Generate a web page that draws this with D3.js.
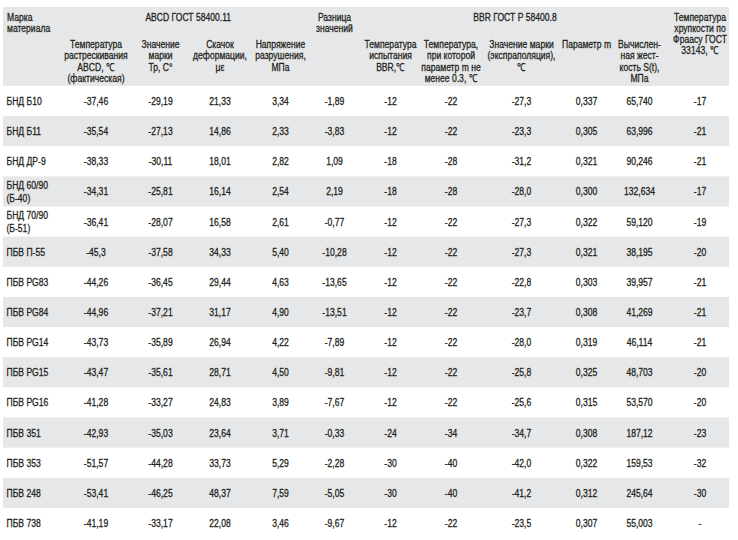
<!DOCTYPE html>
<html>
<head>
<meta charset="utf-8">
<script src="https://cdn.jsdelivr.net/npm/d3@7"></script>
<style>
  html, body { margin: 0; padding: 0; background: #ffffff; }
  svg text { font-family: "Liberation Sans", Arial, sans-serif; font-size: 11px; fill: #231f20; stroke: #231f20; stroke-width: 0.3px; }
</style>
</head>
<body>
<svg id="chart" width="738" height="540"></svg>
<script>
// ---- data ----
const materials = ["БНД Б10", "БНД Б11", "БНД ДР-9", "БНД 60/90\n(Б-40)", "БНД 70/90\n(Б-51)", "ПБВ П-55",
  "ПБВ PG83", "ПБВ PG84", "ПБВ PG14", "ПБВ PG15", "ПБВ PG16", "ПБВ 351", "ПБВ 353", "ПБВ 248", "ПБВ 738"];
const crackTempABCD = ["-37,46", "-35,54", "-38,33", "-34,31", "-36,41", "-45,3", "-44,26", "-44,96", "-43,73", "-43,47", "-41,28", "-42,93", "-51,57", "-53,41", "-41,19"];
const gradeTp = ["-29,19", "-27,13", "-30,11", "-25,81", "-28,07", "-37,58", "-36,45", "-37,21", "-35,89", "-35,61", "-33,27", "-35,03", "-44,28", "-46,25", "-33,17"];
const strainJump = ["21,33", "14,86", "18,01", "16,14", "16,58", "34,33", "29,44", "31,17", "26,94", "28,71", "24,83", "23,64", "33,73", "48,37", "22,08"];
const failStress = ["3,34", "2,33", "2,82", "2,54", "2,61", "5,40", "4,63", "4,90", "4,22", "4,50", "3,89", "3,71", "5,29", "7,59", "3,46"];
const diffValues = ["-1,89", "-3,83", "1,09", "2,19", "-0,77", "-10,28", "-13,65", "-13,51", "-7,89", "-9,81", "-7,67", "-0,33", "-2,28", "-5,05", "-9,67"];
const bbrTestTemp = ["-12", "-12", "-18", "-18", "-12", "-12", "-12", "-12", "-12", "-12", "-12", "-24", "-30", "-30", "-12"];
const tempM03 = ["-22", "-22", "-28", "-28", "-22", "-22", "-22", "-22", "-22", "-22", "-22", "-34", "-40", "-40", "-22"];
const gradeExtrap = ["-27,3", "-23,3", "-31,2", "-28,0", "-27,3", "-27,3", "-22,8", "-23,7", "-28,0", "-25,8", "-25,6", "-34,7", "-42,0", "-41,2", "-23,5"];
const paramM = ["0,337", "0,305", "0,321", "0,300", "0,322", "0,321", "0,303", "0,308", "0,319", "0,325", "0,315", "0,308", "0,322", "0,312", "0,307"];
const stiffness = ["65,740", "63,996", "90,246", "132,634", "59,120", "38,195", "39,957", "41,269", "46,114", "48,703", "53,570", "187,12", "159,53", "245,64", "55,003"];
const fraassTemp = ["-17", "-21", "-21", "-17", "-19", "-20", "-21", "-21", "-21", "-20", "-20", "-23", "-32", "-30", "-"];

// header texts
const labelHeader = ["Марка", "материала"];
const groupHeaders = [
  { text: ["ABCD ГОСТ 58400.11"], from: "c1", to: "c4" },
  { text: ["Разница", "значений"], from: "c5", to: "c5" },
  { text: ["BBR ГОСТ Р 58400.8"], from: "c6", to: "c10" },
  { text: ["Температура", "хрупкости по", "Фраасу ГОСТ", "33143, ℃"], from: "c11", to: "c11" }
];
const subHeaders = {
  c1: ["Температура", "растрескивания", "ABCD, ℃", "(фактическая)"],
  c2: ["Значение", "марки", "Тр, С°"],
  c3: ["Скачок", "деформации,", "με"],
  c4: ["Напряжение", "разрушения,", "МПа"],
  c6: ["Температура", "испытания", "BBR,℃"],
  c7: ["Температура,", "при которой", "параметр m не", "менее 0.3, ℃"],
  c8: ["Значение марки", "(экспраполяция),", "℃"],
  c9: ["Параметр m"],
  c10: ["Вычислен-", "ная жест-", "кость S(t),", "МПа"]
};
const columns = [
  { key: "c1", values: crackTempABCD },
  { key: "c2", values: gradeTp },
  { key: "c3", values: strainJump },
  { key: "c4", values: failStress },
  { key: "c5", values: diffValues },
  { key: "c6", values: bbrTestTemp },
  { key: "c7", values: tempM03 },
  { key: "c8", values: gradeExtrap },
  { key: "c9", values: paramM },
  { key: "c10", values: stiffness },
  { key: "c11", values: fraassTemp }
];

// ---- layout ----
const svg = d3.select("#chart");
const left = 3, right = 729, headTop = 7, headBottom = 86, bodyBottom = 538;
const labelX = 6.5;
const lineH = 11.3;
const sx = 0.78; // horizontal condensing of the text (narrow face look)

const x = d3.scaleOrdinal()
  .domain(columns.map(c => c.key))
  .range([96, 160.5, 220, 280.5, 334.5, 390.5, 451, 521.5, 586.5, 639.5, 700]);

const y = d3.scaleBand()
  .domain(d3.range(materials.length))
  .range([headBottom, bodyBottom]);

// header background
svg.append("rect")
  .attr("x", left).attr("y", headTop)
  .attr("width", right - left).attr("height", headBottom - headTop)
  .attr("fill", "#e6e7e8");

// row stripes
svg.append("g").selectAll("rect")
  .data(d3.range(materials.length).filter(i => i % 2 === 1))
  .join("rect")
  .attr("x", left).attr("y", i => y(i))
  .attr("width", right - left).attr("height", y.bandwidth())
  .attr("fill", "#e6e7e8");

// condensed multi-line text helper
function multiLine(g, lines, xPos, baseline, anchor, step, dy) {
  const t = g.append("text")
    .attr("text-anchor", anchor)
    .attr("transform", `translate(${xPos},${baseline}) scale(${sx},1)`);
  lines.forEach((ln, i) => {
    const ts = t.append("tspan").attr("x", 0).attr("y", i * step).text(ln);
    if (dy) ts.attr("dy", dy);
  });
  return t;
}

const hg = svg.append("g");
multiLine(hg, labelHeader, labelX + 0.5, 20.5, "start", lineH);
groupHeaders.forEach(gh => {
  const cx = (x(gh.from) + x(gh.to)) / 2;
  multiLine(hg, gh.text, cx, 20.5, "middle", lineH);
});
Object.entries(subHeaders).forEach(([k, lines]) => {
  multiLine(hg, lines, x(k), 48, "middle", lineH);
});

// body
const body = svg.append("g");
materials.forEach((m, i) => {
  const cy = y(i) + y.bandwidth() / 2;
  const lines = m.split("\n");
  const step = 12.2;
  multiLine(body, lines, labelX, cy - (lines.length - 1) / 2 * step, "start", step, "0.36em");
});
columns.forEach(col => {
  body.append("g").selectAll("text")
    .data(col.values)
    .join("text")
    .attr("text-anchor", "middle")
    .attr("transform", (d, i) => `translate(${x(col.key)},${y(i) + y.bandwidth() / 2}) scale(${sx},1)`)
    .attr("dy", "0.36em")
    .text(d => d);
});
</script>
</body>
</html>
